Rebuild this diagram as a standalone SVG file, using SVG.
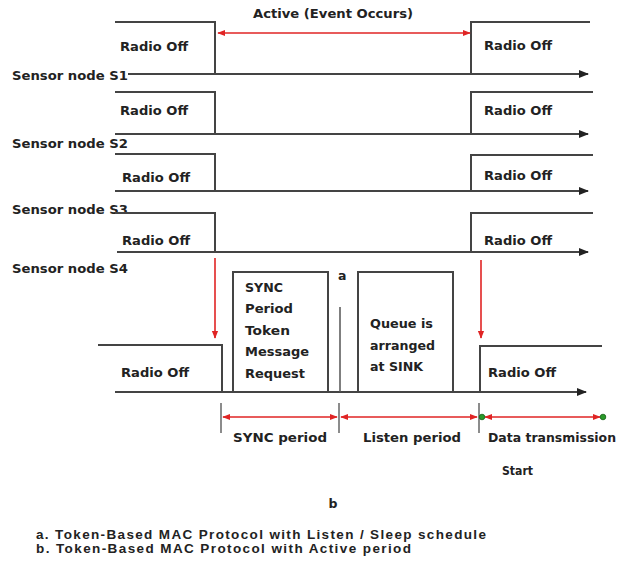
<svg xmlns="http://www.w3.org/2000/svg" width="619" height="567" viewBox="0 0 619 567">
<style>
.t{font-family:"DejaVu Sans",Verdana,sans-serif;font-weight:bold;font-size:12.5px;fill:#222}
.c{font-family:"Liberation Sans",Arial,sans-serif;font-weight:bold;font-size:13.5px;fill:#222}
.ln{stroke:#444;stroke-width:2;fill:none}
.bl{stroke:#444;stroke-width:2;fill:none;marker-end:url(#ba)}
.rd{stroke:#e02424;stroke-width:1.6;fill:none;marker-start:url(#ra);marker-end:url(#ra)}
.rdn{stroke:#e02424;stroke-width:1.6;fill:none;marker-end:url(#ra)}
.tk{stroke:#666;stroke-width:1.5}
.g{fill:#2a9a2a;stroke:#156015;stroke-width:0.8}
</style>
<defs>
<marker id="ba" viewBox="0 0 10 10" refX="9" refY="5" markerWidth="5" markerHeight="5" orient="auto" markerUnits="strokeWidth"><path d="M0,1 L10,5 L0,9 z" fill="#222"/></marker>
<marker id="ra" viewBox="0 0 10 10" refX="9" refY="5" markerWidth="5" markerHeight="5" orient="auto-start-reverse" markerUnits="strokeWidth"><path d="M0,1 L10,5 L0,9 z" fill="#e02424"/></marker>
</defs>
<rect width="619" height="567" fill="#fff"/>
<text class="t" x="333" y="18" text-anchor="middle" textLength="160" lengthAdjust="spacingAndGlyphs">Active (Event Occurs)</text>
<g id="s1">
<path class="ln" d="M115,22 H215 V74 M471,74 V22 H590"/>
<path class="bl" d="M128,74 H588"/>
<text class="t" x="120" y="51" textLength="68" lengthAdjust="spacingAndGlyphs">Radio Off</text>
<text class="t" x="484" y="50" textLength="68" lengthAdjust="spacingAndGlyphs">Radio Off</text>
<text class="t" x="12" y="80" textLength="116" lengthAdjust="spacingAndGlyphs">Sensor node  S1</text>
</g>
<g id="s2">
<path class="ln" d="M115,92 H215 V134 M471,134 V92 H593"/>
<path class="bl" d="M115,134 H588"/>
<text class="t" x="120" y="115" textLength="68" lengthAdjust="spacingAndGlyphs">Radio Off</text>
<text class="t" x="484" y="115" textLength="68" lengthAdjust="spacingAndGlyphs">Radio Off</text>
<text class="t" x="12" y="148" textLength="116" lengthAdjust="spacingAndGlyphs">Sensor node  S2</text>
</g>
<g id="s3">
<path class="ln" d="M115,154 H215 V191 M471,191 V155 H593"/>
<path class="bl" d="M115,191 H588"/>
<text class="t" x="122" y="182" textLength="68" lengthAdjust="spacingAndGlyphs">Radio Off</text>
<text class="t" x="484" y="180" textLength="68" lengthAdjust="spacingAndGlyphs">Radio Off</text>
<text class="t" x="12" y="214" textLength="116" lengthAdjust="spacingAndGlyphs">Sensor node  S3</text>
</g>
<g id="s4">
<path class="ln" d="M115,213 H215 V252 M471,252 V213 H593"/>
<path class="bl" d="M117,252 H588"/>
<text class="t" x="122" y="245" textLength="68" lengthAdjust="spacingAndGlyphs">Radio Off</text>
<text class="t" x="484" y="245" textLength="68" lengthAdjust="spacingAndGlyphs">Radio Off</text>
<text class="t" x="12" y="273" textLength="116" lengthAdjust="spacingAndGlyphs">Sensor node  S4</text>
</g>
<g id="bottom">
<path class="ln" d="M98,345 H222 V392 M233,392 V272 H328 V392 M358,392 V272 H453 V392 M480,392 V346 H602"/>
<path class="bl" d="M115,392 H586"/>
<line x1="340" y1="307" x2="340" y2="392" stroke="#555" stroke-width="1.5"/>
<text class="t" x="121" y="377" textLength="68" lengthAdjust="spacingAndGlyphs">Radio Off</text>
<text class="t" x="488" y="377" textLength="68" lengthAdjust="spacingAndGlyphs">Radio Off</text>
<text class="t" x="338" y="280">a</text>
<text class="t" x="245" y="292" textLength="38" lengthAdjust="spacingAndGlyphs">SYNC</text>
<text class="t" x="245" y="313" textLength="48" lengthAdjust="spacingAndGlyphs">Period</text>
<text class="t" x="245" y="335" textLength="45" lengthAdjust="spacingAndGlyphs">Token</text>
<text class="t" x="245" y="356" textLength="64" lengthAdjust="spacingAndGlyphs">Message</text>
<text class="t" x="245" y="378" textLength="60" lengthAdjust="spacingAndGlyphs">Request</text>
<text class="t" x="370" y="328" textLength="63" lengthAdjust="spacingAndGlyphs">Queue is</text>
<text class="t" x="370" y="350" textLength="65" lengthAdjust="spacingAndGlyphs">arranged</text>
<text class="t" x="370" y="371" textLength="53" lengthAdjust="spacingAndGlyphs">at SINK</text>
</g>
<g id="connectors">
<line class="rd" x1="218" y1="33" x2="470" y2="33"/>
<line class="rdn" x1="215" y1="258" x2="215" y2="338"/>
<line class="rdn" x1="481" y1="260" x2="481" y2="338"/>
<line class="tk" x1="221" y1="403" x2="221" y2="433"/>
<line class="tk" x1="339" y1="403" x2="339" y2="433"/>
<line class="tk" x1="479" y1="403" x2="479" y2="433"/>
<line class="rd" x1="223" y1="417" x2="337" y2="417"/>
<line class="rd" x1="341" y1="417" x2="477" y2="417"/>
<line class="rd" x1="485" y1="417" x2="600" y2="417"/>
<circle class="g" cx="482" cy="417" r="2.8"/>
<circle class="g" cx="603" cy="417" r="2.8"/>
</g>
<g id="labels">
<text class="t" x="233" y="442" textLength="94" lengthAdjust="spacingAndGlyphs">SYNC period</text>
<text class="t" x="363" y="442" textLength="98" lengthAdjust="spacingAndGlyphs">Listen period</text>
<text class="t" x="488" y="442" textLength="128" lengthAdjust="spacingAndGlyphs">Data transmission</text>
<text class="t" x="502" y="475" textLength="31" lengthAdjust="spacingAndGlyphs">Start</text>
<text class="t" x="333" y="508" text-anchor="middle">b</text>
<text class="c" x="36" y="539" textLength="450">a.  Token-Based MAC Protocol with Listen / Sleep schedule</text>
<text class="c" x="36" y="553" textLength="375">b.  Token-Based MAC Protocol with Active period</text>
</g>
</svg>
